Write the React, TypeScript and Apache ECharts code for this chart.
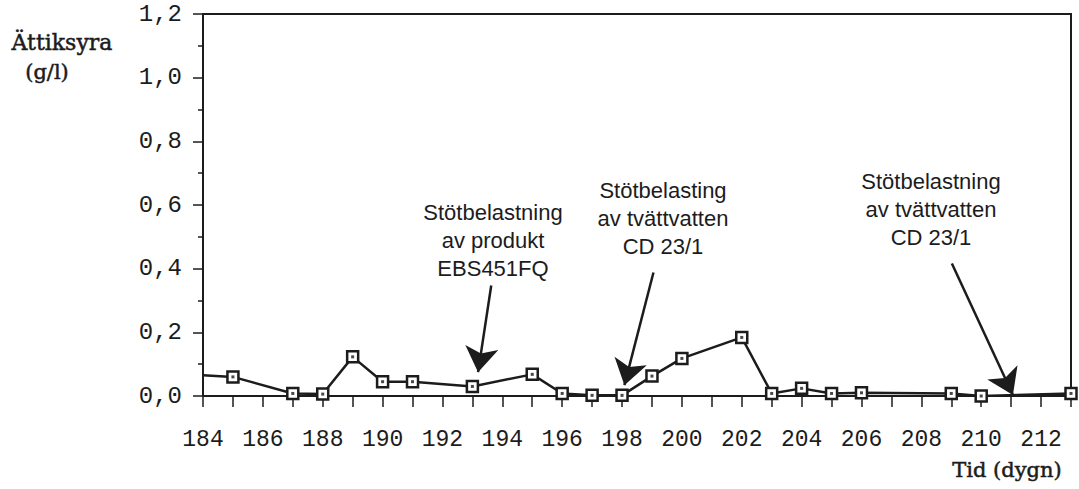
import React, { useEffect, useRef } from "react";
import * as echarts from "echarts";

// Day (dygn) and acetic acid concentration (g/l)
const days = [184, 185, 187, 188, 189, 190, 191, 193, 195, 196, 197, 198, 199, 200, 202, 203, 204, 205, 206, 209, 210, 213];
const values = [0.065, 0.06, 0.008, 0.006, 0.123, 0.045, 0.045, 0.03, 0.068, 0.008, 0.002, 0.002, 0.0625, 0.118, 0.184, 0.008, 0.024, 0.008, 0.01, 0.008, 0.0, 0.008];

// Annotation arrows (data coordinates: start -> tip)
const arrowStarts: [number, number][] = [[193.63, 0.347], [199.05, 0.388], [209.02, 0.416]];
const arrowTips: [number, number][] = [[193.19, 0.075], [198.08, 0.034], [211.06, 0.003]];
const annotationTexts = [
  "Stötbelastning\nav produkt\nEBS451FQ",
  "Stötbelasting\nav tvättvatten\nCD 23/1",
  "Stötbelastning\nav tvättvatten\nCD 23/1",
];

const xMin = 184;
const xMax = 213;
const yMin = 0;
const yMax = 1.2;
const yStep = 0.2;

export default function App() {
  const ref = useRef<HTMLDivElement>(null);
  useEffect(() => {
    if (!ref.current) return;
    const chart = echarts.init(ref.current, undefined, { renderer: "svg" });
    const ink = "#1c1c1c";
    const mono = "'Liberation Mono', 'DejaVu Sans Mono', monospace";
    const serif = "'DejaVu Serif', 'Liberation Serif', serif";
    const sans = "'Liberation Sans', Arial, sans-serif";
    const pts = days.map((d, i) => (i === 0 ? { value: [d, values[i]], symbol: "none" } : { value: [d, values[i]] }));
    const annPos = [
      [493, 240],
      [663, 218],
      [931, 209],
    ];
    const serifStyle = (text: string, size: number) => ({
      text,
      font: `${size}px ${serif}`,
      fill: ink,
      stroke: ink,
      lineWidth: 0.5,
      align: "center",
      verticalAlign: "middle",
    });
    chart.setOption({
      animation: false,
      backgroundColor: "#fff",
      grid: {
        left: 203,
        right: 8,
        top: 14,
        bottom: 93,
        show: true,
        borderColor: ink,
        borderWidth: 2,
        backgroundColor: "transparent",
      },
      xAxis: {
        type: "value",
        min: xMin,
        max: xMax,
        interval: 1,
        splitLine: { show: false },
        axisLine: { show: true, onZero: false, lineStyle: { color: ink, width: 2 } },
        axisTick: { show: true, inside: false, length: 11, lineStyle: { color: ink, width: 1.5 } },
        axisLabel: {
          margin: 32,
          color: ink,
          fontFamily: mono,
          fontSize: 23,
          formatter: (v: number) => (v % 2 === 0 && v < 213 ? String(v) : ""),
        },
      },
      yAxis: {
        type: "value",
        min: yMin,
        max: yMax,
        interval: yStep,
        splitLine: { show: false },
        axisLine: { show: true, lineStyle: { color: ink, width: 2 } },
        axisTick: { show: true, inside: false, length: 10, lineStyle: { color: ink, width: 1.5 } },
        minorTick: { show: true, splitNumber: 2, length: 5, lineStyle: { color: ink, width: 1.5 } },
        axisLabel: {
          margin: 21,
          color: ink,
          fontFamily: mono,
          fontSize: 24,
          formatter: (v: number) => v.toFixed(1).replace(".", ","),
        },
      },
      series: [
        {
          type: "line",
          data: pts,
          symbol: "rect",
          symbolSize: 11,
          lineStyle: { color: ink, width: 2.5 },
          itemStyle: { color: "#fff", borderColor: ink, borderWidth: 2.5 },
          z: 3,
          markLine: {
            silent: true,
            symbol: ["none", "arrow"],
            symbolSize: 25,
            label: { show: false },
            lineStyle: { color: ink, width: 2.5, type: "solid" },
            data: arrowStarts.map((s, i) => [{ coord: s }, { coord: arrowTips[i] }]),
          },
        },
        {
          type: "scatter",
          data: days.slice(1).map((d, i) => [d, values[i + 1]]),
          symbol: "rect",
          symbolSize: 3,
          itemStyle: { color: ink },
          z: 4,
        },
      ],
      graphic: [
        { type: "text", x: 62, y: 42, style: serifStyle("Ättiksyra", 22) },
        { type: "text", x: 47, y: 72, style: serifStyle("(g/l)", 21) },
        { type: "text", x: 1007, y: 470, style: serifStyle("Tid (dygn)", 21) },
        ...annotationTexts.map((t, i) => ({
          type: "text",
          x: annPos[i][0],
          y: annPos[i][1],
          style: {
            text: t,
            font: `22px ${sans}`,
            lineHeight: 28,
            fill: ink,
            align: "center",
            verticalAlign: "middle",
          },
        })),
      ],
    });
    return () => chart.dispose();
  }, []);
  return (
    <div
      ref={ref}
      style={{ position: "fixed", left: 0, top: 0, width: 1079, height: 489, background: "#fff" }}
    />
  );
}
